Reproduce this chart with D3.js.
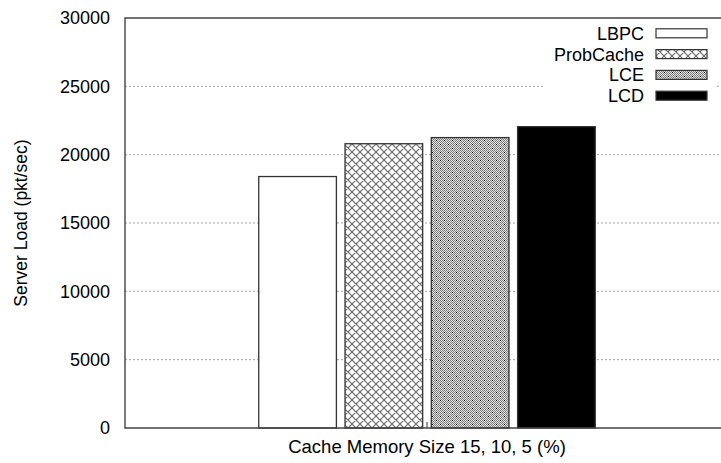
<!DOCTYPE html>
<html>
<head>
<meta charset="utf-8">
<script src="https://cdn.jsdelivr.net/npm/d3@7"></script>
<style>
  html, body { margin: 0; padding: 0; background: #fff; }
  svg { display: block; }
  text { font-family: "Liberation Sans", Arial, Helvetica, sans-serif; fill: #000; }
</style>
</head>
<body>
<div id="chart"></div>
<script>
// ---- data ----
const categories = ["Cache Memory Size 15, 10, 5 (%)"];
const series = ["LBPC", "ProbCache", "LCE", "LCD"];
const values = [18400, 20800, 21250, 22050];
const yTicks = [0, 5000, 10000, 15000, 20000, 25000, 30000];
const yLabel = "Server Load (pkt/sec)";

// ---- layout ----
const W = 721, H = 463;
const plot = { left: 125, right: 729, top: 18, bottom: 428 };

const svg = d3.select("#chart").append("svg")
  .attr("width", W).attr("height", H)
  .attr("shape-rendering", "auto");

const defs = svg.append("defs");
// crosshatch for ProbCache
const p1 = defs.append("pattern").attr("id", "cross")
  .attr("patternUnits", "userSpaceOnUse").attr("width", 8).attr("height", 8);
p1.append("rect").attr("width", 8).attr("height", 8).attr("fill", "#fff");
p1.append("path").attr("d", "M0,0 L8,8 M8,0 L0,8 M-1,7 L1,9 M7,-1 L9,1 M-1,1 L1,-1 M7,9 L9,7")
  .attr("stroke", "#666").attr("stroke-width", 1.1).attr("fill", "none");
// dense pattern for LCE: 1px checkerboard with dark dots at cross points
const p2 = defs.append("pattern").attr("id", "dense")
  .attr("patternUnits", "userSpaceOnUse").attr("width", 8).attr("height", 8);
p2.append("rect").attr("width", 8).attr("height", 8).attr("fill", "#e4e4e4");
const cells = [];
for (let i = 0; i < 8; i++) for (let j = 0; j < 8; j++) if ((i + j) % 2 === 0) cells.push([i, j]);
p2.selectAll("rect.c").data(cells).join("rect").attr("class", "c")
  .attr("x", d => d[0]).attr("y", d => d[1]).attr("width", 1).attr("height", 1)
  .attr("fill", "#7a7a7a").attr("shape-rendering", "crispEdges");
p2.selectAll("rect.k").data([[0, 0], [4, 4]]).join("rect").attr("class", "k")
  .attr("x", d => d[0]).attr("y", d => d[1]).attr("width", 1).attr("height", 1)
  .attr("fill", "#111").attr("shape-rendering", "crispEdges");

const fills = ["#ffffff", "url(#cross)", "url(#dense)", "#000000"];

const x = d3.scaleLinear().domain([-0.7, 0.7]).range([plot.left, plot.right]);
const y = d3.scaleLinear().domain([0, 30000]).range([plot.bottom, plot.top]);
const color = d3.scaleOrdinal().domain(series).range(fills);

const nS = series.length;
const slot = 1 / (nS + 1);      // gnuplot cluster gap 1
const boxW = slot * 0.9;
const offset = (i) => (i - (nS - 1) / 2) * slot;

// gridlines
svg.append("g").selectAll("line")
  .data(yTicks.filter(t => t > 0 && t < 30000))
  .join("line")
  .attr("x1", plot.left).attr("x2", plot.right)
  .attr("y1", d => y(d)).attr("y2", d => y(d))
  .attr("stroke", "#a0a0a0").attr("stroke-width", 1)
  .attr("stroke-dasharray", "2,2");

// y tick labels
svg.append("g").selectAll("text")
  .data(yTicks).join("text")
  .attr("x", 110).attr("y", d => y(d))
  .attr("dy", "0.36em")
  .attr("text-anchor", "end")
  .attr("font-size", 18)
  .text(d => d);

// bars
categories.forEach((cat, ci) => {
  svg.append("g").selectAll("rect")
    .data(series.map((s, i) => ({ s, i, v: values[i] })))
    .join("rect")
    .attr("x", d => x(ci + offset(d.i) - boxW / 2))
    .attr("width", d => x(boxW) - x(0))
    .attr("y", d => y(d.v))
    .attr("height", d => y(0) - y(d.v))
    .attr("fill", d => color(d.s))
    .attr("stroke", "#333").attr("stroke-width", 1.3);

  // x tick
  svg.append("line")
    .attr("x1", x(ci)).attr("x2", x(ci))
    .attr("y1", plot.bottom).attr("y2", plot.bottom - 6)
    .attr("stroke", "#333").attr("stroke-width", 1);

  svg.append("text")
    .attr("x", x(ci)).attr("y", 453)
    .attr("text-anchor", "middle")
    .attr("font-size", 18.5)
    .text(cat);
});

// frame
svg.append("path")
  .attr("d", `M${plot.right},${plot.top} H${plot.left} V${plot.bottom} H${plot.right}`)
  .attr("fill", "none").attr("stroke", "#444").attr("stroke-width", 1.4);

// legend
const lg = svg.append("g");
lg.append("rect").attr("x", 544).attr("y", 21).attr("width", 173).attr("height", 85)
  .attr("fill", "#fff");
series.forEach((s, i) => {
  const cy = 33.3 + i * 20.8;
  lg.append("text").attr("x", 644).attr("y", cy).attr("dy", "0.36em")
    .attr("text-anchor", "end").attr("font-size", 18).text(s);
  lg.append("rect").attr("x", 656).attr("y", cy - 4.5).attr("width", 51).attr("height", 9)
    .attr("fill", color(s)).attr("stroke", "#333").attr("stroke-width", 1.2);
});

// y label
svg.append("text")
  .attr("transform", `translate(27,${(plot.top + plot.bottom) / 2}) rotate(-90)`)
  .attr("text-anchor", "middle")
  .attr("font-size", 17.5)
  .text(yLabel);
</script>
</body>
</html>
